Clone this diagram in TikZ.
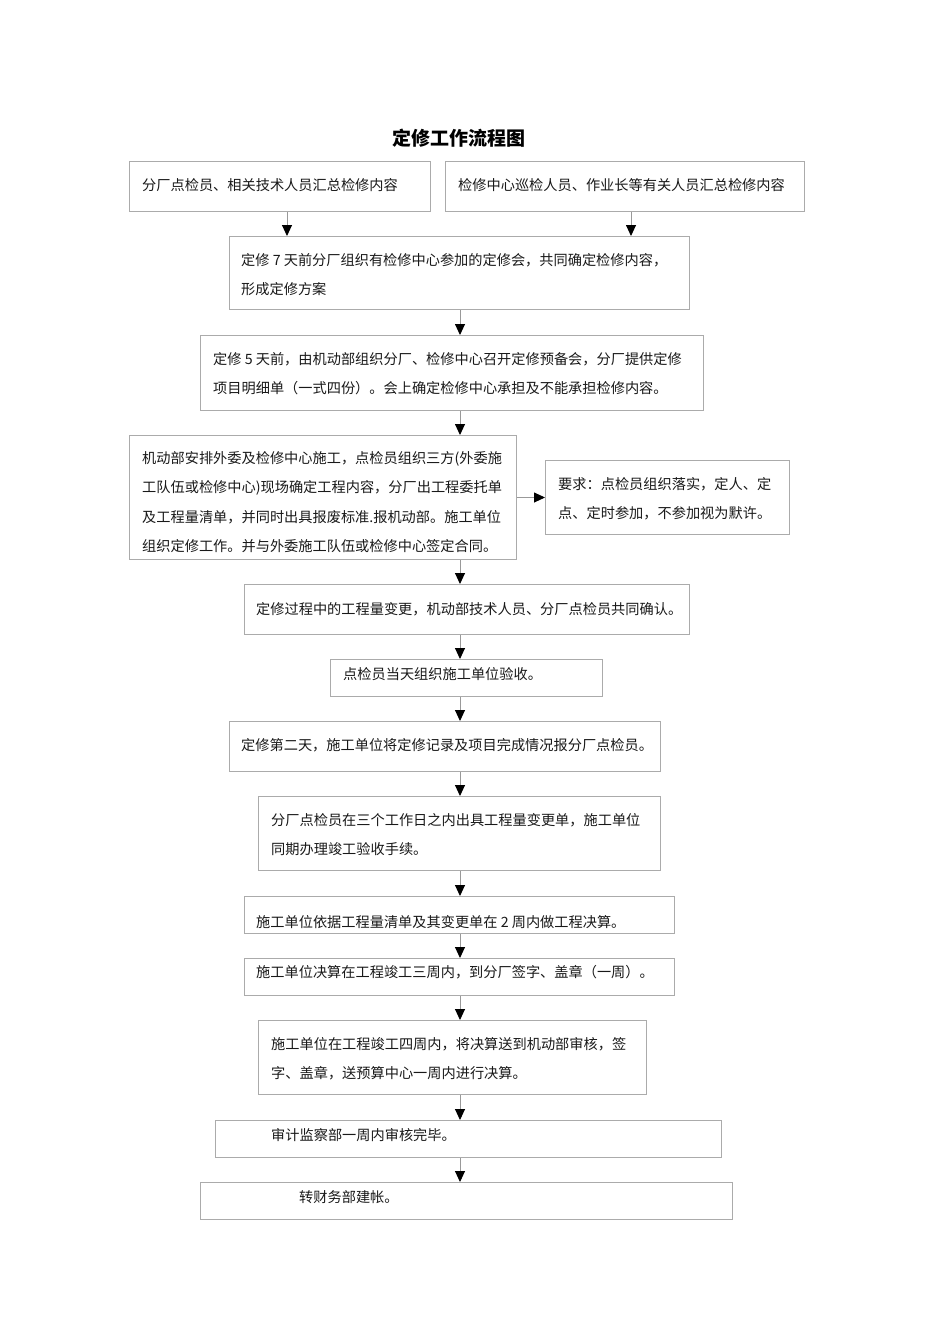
\documentclass[tikz,border=0pt]{standalone}
\usepackage{fontspec}
\setmainfont{Noto Sans CJK SC}
\usetikzlibrary{arrows.meta}
\begin{document}
\begin{tikzpicture}[x=1pt,y=-1pt,
  box/.style={draw=black!33,line width=1pt,anchor=north west,inner sep=0pt,rectangle},
  txt/.style={anchor=west,inner sep=0pt,font=\fontsize{14.2}{14.2}\selectfont,text=black!90},
  arr/.style={draw=black!40,line width=0.9pt,-{Triangle[width=10pt,length=11pt,color=black]}}]
\useasboundingbox[fill=white] (0,0) rectangle (950,1344);
\node[font=\bfseries\fontsize{19}{19}\selectfont] (title) at (459,138) {定修工作流程图};
% boxes
\node[box,minimum width=301,minimum height=50] (A) at (129,161) {};
\node[box,minimum width=359,minimum height=50] (B) at (445,161) {};
\node[box,minimum width=460,minimum height=73] (C) at (229,236) {};
\node[box,minimum width=503,minimum height=75] (D) at (200,335) {};
\node[box,minimum width=387,minimum height=124] (E) at (129,435) {};
\node[box,minimum width=244,minimum height=74] (F) at (545,460) {};
\node[box,minimum width=445,minimum height=50] (G) at (244,584) {};
\node[box,minimum width=272,minimum height=37] (H) at (330,659) {};
\node[box,minimum width=431,minimum height=50] (I) at (229,721) {};
\node[box,minimum width=402,minimum height=74] (J) at (258,796) {};
\node[box,minimum width=430,minimum height=37] (K) at (244,896) {};
\node[box,minimum width=430,minimum height=37] (L) at (244,958) {};
\node[box,minimum width=388,minimum height=74] (M) at (258,1020) {};
\node[box,minimum width=506,minimum height=37] (N) at (215,1120) {};
\node[box,minimum width=532,minimum height=37] (O) at (200,1182) {};
% texts
\node[txt] (A1) at (142,185) {分厂点检员、相关技术人员汇总检修内容};
\node[txt] (B1) at (458,185) {检修中心巡检人员、作业长等有关人员汇总检修内容};
\node[txt] (C1) at (241,260) {定修 7 天前分厂组织有检修中心参加的定修会，共同确定检修内容，};
\node[txt] (C2) at (241,289) {形成定修方案};
\node[txt] (D1) at (213,359) {定修 5 天前，由机动部组织分厂、检修中心召开定修预备会，分厂提供定修};
\node[txt] (D2) at (213,388) {项目明细单（一式四份）。会上确定检修中心承担及不能承担检修内容。};
\node[txt] (E1) at (142,459) {机动部安排外委及检修中心施工，点检员组织三方(外委施};
\node[txt] (E2) at (142,488) {工队伍或检修中心)现场确定工程内容，分厂出工程委托单};
\node[txt] (E3) at (142,517) {及工程量清单，并同时出具报废标准.报机动部。施工单位};
\node[txt] (E4) at (142,546) {组织定修工作。并与外委施工队伍或检修中心签定合同。};
\node[txt] (F1) at (558,484) {要求：点检员组织落实，定人、定};
\node[txt] (F2) at (558,513) {点、定时参加，不参加视为默许。};
\node[txt] (G1) at (256,609) {定修过程中的工程量变更，机动部技术人员、分厂点检员共同确认。};
\node[txt] (H1) at (343,674) {点检员当天组织施工单位验收。};
\node[txt] (I1) at (241,745) {定修第二天，施工单位将定修记录及项目完成情况报分厂点检员。};
\node[txt] (J1) at (271,820) {分厂点检员在三个工作日之内出具工程量变更单，施工单位};
\node[txt] (J2) at (271,849) {同期办理竣工验收手续。};
\node[txt] (K1) at (256,922) {施工单位依据工程量清单及其变更单在 2 周内做工程决算。};
\node[txt] (L1) at (256,972) {施工单位决算在工程竣工三周内，到分厂签字、盖章（一周）。};
\node[txt] (M1) at (271,1044) {施工单位在工程竣工四周内，将决算送到机动部审核，签};
\node[txt] (M2) at (271,1073) {字、盖章，送预算中心一周内进行决算。};
\node[txt] (N1) at (271,1135) {审计监察部一周内审核完毕。};
\node[txt] (O1) at (299,1197) {转财务部建帐。};
% connectors
\coordinate (xa) at (287,0);
\coordinate (xb) at (631,0);
\coordinate (xm) at (460,0);
\draw[arr] (A.south -| xa) -- (C.north -| xa);
\draw[arr] (B.south -| xb) -- (C.north -| xb);
\draw[arr] (C.south -| xm) -- (D.north -| xm);
\draw[arr] (D.south -| xm) -- (E.north -| xm);
\draw[arr] (E.east |- F.west) -- (F.west);
\draw[arr] (E.south -| xm) -- (G.north -| xm);
\draw[arr] (G.south -| xm) -- (H.north -| xm);
\draw[arr] (H.south -| xm) -- (I.north -| xm);
\draw[arr] (I.south -| xm) -- (J.north -| xm);
\draw[arr] (J.south -| xm) -- (K.north -| xm);
\draw[arr] (K.south -| xm) -- (L.north -| xm);
\draw[arr] (L.south -| xm) -- (M.north -| xm);
\draw[arr] (M.south -| xm) -- (N.north -| xm);
\draw[arr] (N.south -| xm) -- (O.north -| xm);
\end{tikzpicture}
\end{document}
